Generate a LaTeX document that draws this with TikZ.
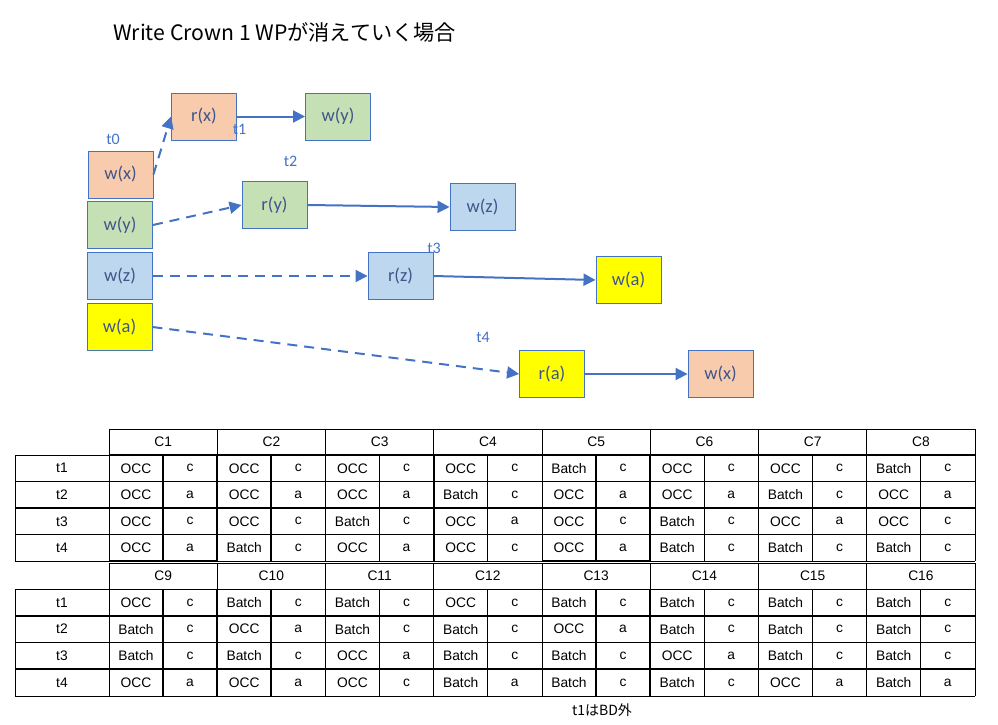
\documentclass[tikz,border=0pt]{standalone}
\usepackage{fontspec}
\setmainfont{Carlito}
\newfontfamily\tblfont{Liberation Sans}
\newfontfamily\jpfont{Noto Sans CJK JP}
\usetikzlibrary{arrows.meta}
\definecolor{obl}{HTML}{4472C4}
\definecolor{peach}{HTML}{F8CBAD}
\definecolor{lgreen}{HTML}{C5E0B4}
\definecolor{lblue}{HTML}{BDD7EE}
\definecolor{yel}{HTML}{FFFF00}
\definecolor{btxt}{HTML}{40558A}
\tikzset{
  box/.style={draw=obl, line width=0.9pt, minimum width=65pt, minimum height=47pt, inner sep=0pt, text=btxt, font=\fontsize{18.5}{21}\selectfont},
  tlab/.style={text=obl, inner sep=0pt, font=\fontsize{16}{19}\selectfont},
  conn/.style={draw=obl, line width=2pt, -{Triangle[length=12pt,width=12pt]}},
  dconn/.style={conn, dash pattern=on 10pt off 7pt},
  cell/.style={inner sep=0pt, font=\tblfont\fontsize{13.8}{16}\selectfont},
  grid/.style={line width=0.8pt},
  thk/.style={line width=1.8pt},
}
\newcommand\TRow[3]{%
  \foreach \o/\v [count=\g] in {#3} {
    \pgfmathsetmacro\xl{109+(\g-1)*108.25}
    \node[cell] (#1o\g) at (\xl+27,#2) {\o};
    \node[cell] (#1v\g) at (\xl+81,#2) {\v};
  }%
}
\newcommand\TGrid[4]{% #1 prefix, #2 header top, #3 rows top, #4 step
  \draw[grid] (109,#2) -- (975,#2);
  \foreach \r in {0,...,4} { \draw[grid] (15,#3+\r*#4) -- (975,#3+\r*#4); }
  \draw[grid] (15,#3) -- (15,#3+4*#4);
  \foreach \g in {0,...,8} { \draw[grid] (109+\g*108.25,#2) -- (109+\g*108.25,#3+4*#4); }
  \foreach \g in {0,...,7} { \draw[grid] (163+\g*108.25,#3) -- (163+\g*108.25,#3+4*#4); }
  \foreach \r [count=\k] in {1,...,4} {
    \node[cell] (#1lab\k) at (62,#3+\r*#4-0.5*#4) {t\k};
  }
}
\begin{document}
\begin{tikzpicture}[x=1pt,y=-1pt]
\useasboundingbox (0,0) rectangle (998,725);
% title
\node[anchor=west, inner sep=0pt, font=\jpfont\fontsize{21.2}{25}\selectfont] (title) at (113,32) {Write Crown 1 WPが消えていく場合};

% boxes
\node[box, fill=peach] (wx1) at (120.5,174.5) {w(x)};
\node[box, fill=lgreen] (wy1) at (120,225) {w(y)};
\node[box, fill=lblue] (wz1) at (120,276) {w(z)};
\node[box, fill=yel] (wa1) at (119.5,327) {w(a)};
\node[box, fill=peach] (rx) at (204,116.5) {r(x)};
\node[box, fill=lgreen] (wy2) at (338,116.5) {w(y)};
\node[box, fill=lgreen] (ry) at (274.5,205) {r(y)};
\node[box, fill=lblue] (wz2) at (482.5,207) {w(z)};
\node[box, fill=lblue] (rz) at (400.5,276) {r(z)};
\node[box, fill=yel] (wa2) at (628.5,280) {w(a)};
\node[box, fill=yel] (ra) at (552,374) {r(a)};
\node[box, fill=peach] (wx2) at (720.5,374) {w(x)};

% labels
\node[tlab] (t0) at (113,139) {t0};
\node[tlab] (t1) at (239.5,129) {t1};
\node[tlab] (t2) at (290.5,161) {t2};
\node[tlab] (t3) at (434,248) {t3};
\node[tlab] (t4) at (483,337) {t4};

% connectors
\draw[dconn] (wx1.east) -- (rx.west);
\draw[conn] (rx.east) -- (wy2.west);
\draw[dconn] (wy1.east) -- (ry.west);
\draw[conn] (ry.east) -- (wz2.west);
\draw[dconn] (wz1.east) -- (rz.west);
\draw[conn] (rz.east) -- (wa2.west);
\draw[dconn] (wa1.east) -- (ra.west);
\draw[conn] (ra.east) -- (wx2.west);

% table block 1
\TGrid{a}{429}{455}{26.5}
\foreach \g in {1,...,8} {
  \node[cell] (ahd\g) at (109+\g*108.25-54.1,442) {C\g};
}
\draw[thk] (109,455) -- (975,455);
\draw[thk] (15,508) -- (975,508);
\draw[thk] (109,561) -- (217,561);
\draw[thk] (542,561) -- (650,561);
\foreach \x in {163,217,271,434,596,650} { \draw[thk] (\x,455) -- (\x,561); }
\TRow{ar1}{468.25}{OCC/c,OCC/c,OCC/c,OCC/c,Batch/c,OCC/c,OCC/c,Batch/c}
\TRow{ar2}{494.75}{OCC/a,OCC/a,OCC/a,Batch/c,OCC/a,OCC/a,Batch/c,OCC/a}
\TRow{ar3}{521.25}{OCC/c,OCC/c,Batch/c,OCC/a,OCC/c,Batch/c,OCC/a,OCC/c}
\TRow{ar4}{547.75}{OCC/a,Batch/c,OCC/a,OCC/c,OCC/a,Batch/c,Batch/c,Batch/c}

% table block 2
\TGrid{b}{563}{589}{26.75}
\foreach \g [evaluate=\g as \n using int(\g+8)] in {1,...,8} {
  \node[cell] (bhd\g) at (109+\g*108.25-54.1,576) {C\n};
}
\draw[thk] (15,615.75) -- (975,615.75);
\draw[thk] (15,669.25) -- (975,669.25);
\foreach \x in {163,217,271,596,650} { \draw[thk] (\x,589) -- (\x,696); }
\TRow{br1}{602.4}{OCC/c,Batch/c,Batch/c,OCC/c,Batch/c,Batch/c,Batch/c,Batch/c}
\TRow{br2}{629.1}{Batch/c,OCC/a,Batch/c,Batch/c,OCC/a,Batch/c,Batch/c,Batch/c}
\TRow{br3}{655.9}{Batch/c,Batch/c,OCC/a,Batch/c,Batch/c,OCC/a,Batch/c,Batch/c}
\TRow{br4}{682.6}{OCC/a,OCC/a,OCC/c,Batch/a,Batch/c,Batch/c,OCC/a,Batch/a}

% footnote
\node[inner sep=0pt, font=\jpfont\fontsize{14}{16}\selectfont] (note) at (602,710) {t1はBD外};
\end{tikzpicture}
\end{document}
